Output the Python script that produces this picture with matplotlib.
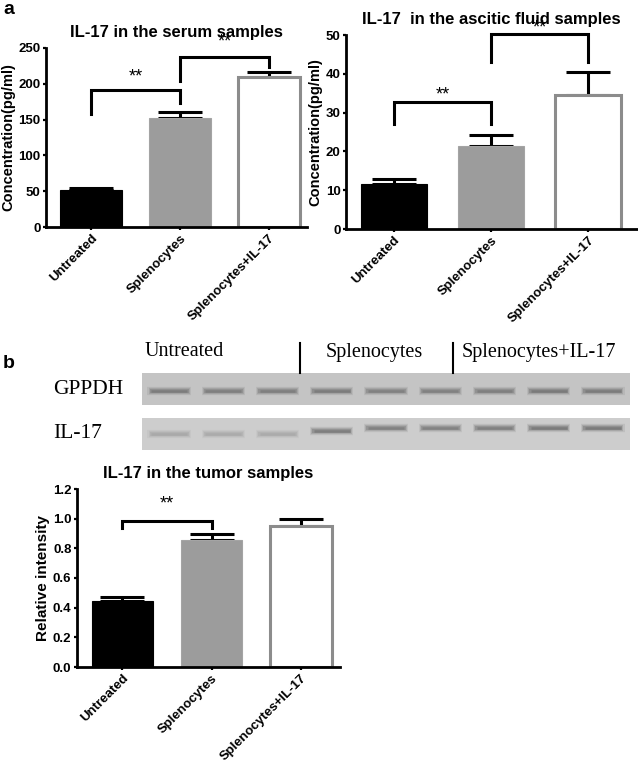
import matplotlib
matplotlib.use("Agg")
import matplotlib.pyplot as plt

plt.rcParams['font.family'] = ['Liberation Sans', 'DejaVu Sans']

W, H = 638, 760

groups = ["Untreated", "Splenocytes", "Splenocytes+IL-17"]
fills = ["black", "#9c9c9c", "white"]
edges = ["black", "#a4a4a4", "#8c8c8c"]

serum_mean = [52, 152, 209]
serum_err = [2, 8, 8]
ascites_mean = [11.7, 21.5, 34.6]
ascites_err = [1.3, 2.8, 5.8]
tumor_mean = [0.445, 0.855, 0.95]
tumor_err = [0.03, 0.04, 0.05]

# brackets: (left group, right group, top, left leg end, right leg end, star height)
serum_brackets = [(0, 1, 191, 158, 173, 210), (1, 2, 237, 204, 223, 258)]
ascites_brackets = [(0, 1, 32.7, 27, 27, 34.6), (1, 2, 50.2, 43, 43, 51.8)]
tumor_brackets = [(0, 1, 0.985, 0.94, 0.94, 1.10)]

blot_lanes = ["Untreated"] * 3 + ["Splenocytes"] * 3 + ["Splenocytes+IL-17"] * 3
gapdh_level = [0.6, 0.58, 0.58, 0.6, 0.56, 0.56, 0.58, 0.62, 0.6]
il17_level = [0.2, 0.18, 0.18, 0.6, 0.56, 0.55, 0.58, 0.62, 0.62]
il17_shift = [0.5, 0.5, 0.5, 0.6, 0.68, 0.68, 0.7, 0.7, 0.7]


def px_axes(fig, left, top, right, bottom):
    return fig.add_axes([left / W, 1 - bottom / H, (right - left) / W, (bottom - top) / H])


def bar_panel(ax, means, errs, brackets, ymax, yticks, ylabel, title, xlim, width, ylsize=10.5):
    x = range(len(groups))
    for i in x:
        ax.bar(i, means[i], width=width, color=fills[i], edgecolor=edges[i],
               linewidth=2.2 if i == 2 else 0.8, zorder=2)
        ax.errorbar(i, means[i], yerr=[[0], [errs[i]]], fmt='none', ecolor='black',
                    elinewidth=2.2, capsize=16, capthick=2.2, zorder=1)
    for a, b, top, l1, l2, star in brackets:
        ax.plot([a, a, b, b], [l1, top, top, l2], color='black', lw=2.2,
                solid_joinstyle='miter', clip_on=False)
        ax.text((a + b) / 2, star, "**", ha='center', va='center', fontsize=13)
    ax.set_xlim(*xlim)
    ax.set_ylim(0, ymax)
    ax.set_yticks(yticks)
    ax.set_xticks(list(x))
    ax.set_xticklabels(groups, rotation=45, ha='right', rotation_mode='anchor',
                       fontsize=9.5, fontweight='bold')
    for lab in ax.get_yticklabels():
        lab.set_fontweight('bold')
        lab.set_fontsize(9.5)
    ax.set_ylabel(ylabel, fontsize=ylsize, fontweight='bold', labelpad=2)
    ax.set_title(title, fontsize=12, fontweight='bold', pad=8)
    for s in ['top', 'right']:
        ax.spines[s].set_visible(False)
    for s in ['left', 'bottom']:
        ax.spines[s].set_linewidth(2)
    ax.tick_params(width=1.6, length=2.5, pad=1.5)


fig = plt.figure(figsize=(W / 100, H / 100), dpi=100)

ax1 = px_axes(fig, 46, 48, 307, 227)
bar_panel(ax1, serum_mean, serum_err, serum_brackets, 250, [0, 50, 100, 150, 200, 250],
          "Concentration(pg/ml)", "IL-17 in the serum samples", (-0.51, 2.43), 0.7)

ax2 = px_axes(fig, 346, 35, 637, 229)
bar_panel(ax2, ascites_mean, ascites_err, ascites_brackets, 50, [0, 10, 20, 30, 40, 50],
          "Concentration(pg/ml)", "IL-17  in the ascitic fluid samples", (-0.49, 2.5), 0.68)

ax3 = px_axes(fig, 77, 489, 340, 667)
bar_panel(ax3, tumor_mean, tumor_err, tumor_brackets, 1.2, [0.0, 0.2, 0.4, 0.6, 0.8, 1.0, 1.2],
          "Relative intensity", "IL-17 in the tumor samples", (-0.51, 2.44), 0.69, ylsize=11)
ax3.set_yticklabels(["0.0", "0.2", "0.4", "0.6", "0.8", "1.0", "1.2"], fontweight='bold', fontsize=9.5)

# western blot strips
for top, bottom, levels, name, bg in [(373, 405, gapdh_level, "GPPDH", "#c4c4c4"),
                                      (418, 450, il17_level, "IL-17", "#cdcdcd")]:
    bx = px_axes(fig, 142, top, 630, bottom)
    bx.set_facecolor(bg)
    n = len(levels)
    for i, lv in enumerate(levels):
        yb = 0.44 if name == "GPPDH" else il17_shift[i]
        g = 0.74 - 0.5 * lv
        for lw, al, half in [(6, 0.15, 0.4), (4.5, 0.25, 0.38), (3, 0.4, 0.36), (1.8, 0.6, 0.33)]:
            bx.plot([i - half, i + half], [yb, yb], color=(g, g, g), lw=lw, alpha=al,
                    solid_capstyle='butt')
    bx.set_xlim(-0.5, n - 0.5)
    bx.set_ylim(0, 1)
    bx.set_xticks([])
    bx.set_yticks([])
    for s in bx.spines.values():
        s.set_visible(False)
    fig.text(53 / W, 1 - (top + bottom) / 2 / H, name, family='Liberation Serif',
             fontsize=15.5, va='center', ha='left')

# lane group labels and separators
group_names = list(dict.fromkeys(blot_lanes))
label_x = [145, 326, 462]
for name, lx in zip(group_names, label_x):
    fig.text(lx / W, 1 - 352 / H, name, family='Liberation Serif', fontsize=14.5,
             va='center', ha='left')
for sx in [300, 453]:
    fig.add_artist(plt.Line2D([sx / W, sx / W], [1 - 343 / H, 1 - 373 / H],
                              color='black', lw=1.5))

fig.text(3 / W, 1 - 10 / H, "a", fontsize=14, fontweight='bold', va='center')
fig.text(3 / W, 1 - 364 / H, "b", fontsize=14, fontweight='bold', va='center')

fig.savefig("out.png", dpi=100)
